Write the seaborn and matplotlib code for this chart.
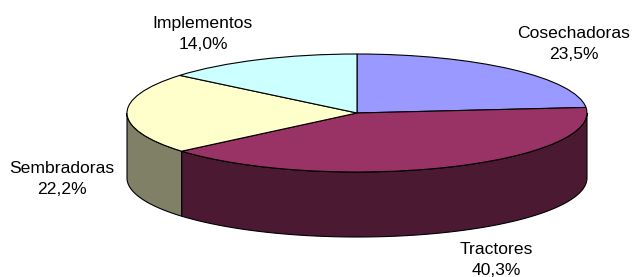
import numpy as np
import matplotlib
matplotlib.use('Agg')
import matplotlib.pyplot as plt
import seaborn as sns

# Data
categories = ['Cosechadoras', 'Tractores', 'Sembradoras', 'Implementos']
shares = [23.5, 40.3, 22.2, 14.0]
top_colors = ['#9999FF', '#993366', '#FFFFCC', '#CCFFFF']
side_colors = ['#4D4D80', '#4C1933', '#808066', '#668080']

sns.set_style('white')
plt.rcParams['font.family'] = ['Liberation Sans', 'DejaVu Sans']

W, H = 633, 277
cx, cy = 357, 113      # pie centre in pixels
a, b = 230, 59         # ellipse half-axes in pixels
depth = 65 / b         # thickness in y units

fig = plt.figure(figsize=(W / 100, H / 100), dpi=100)
ax = fig.add_axes([0, 0, 1, 1])


def px(x, y):
    # pixel position -> data position
    return (x - cx) / a, (cy - y) / b


# --- side walls (front half only) ---
start = 90.0
bounds = []
for v in shares:
    hi = start
    lo = start - v / 100 * 360
    bounds.append((lo, hi))
    start = lo

for (lo, hi), col in zip(bounds, side_colors):
    for shift in (-360, 0, 360):
        s0 = max(lo + shift, -180)
        s1 = min(hi + shift, 0)
        if s1 <= s0:
            continue
        t = np.radians(np.linspace(s0, s1, 100))
        xs = np.concatenate([np.cos(t), np.cos(t[::-1])])
        ys = np.concatenate([np.sin(t), np.sin(t[::-1]) - depth])
        ax.fill(xs, ys, facecolor=col, edgecolor='black', linewidth=0.8, zorder=1)

# --- top face ---
wedges, _ = ax.pie(
    shares,
    colors=top_colors,
    startangle=90,
    counterclock=False,
    radius=1,
    wedgeprops=dict(edgecolor='black', linewidth=0.8),
)
for w in wedges:
    w.set_zorder(2)

ax.set_aspect('auto')
ax.set_xlim(px(0, 0)[0], px(W, 0)[0])
ax.set_ylim(px(0, H)[1], px(0, 0)[1])
ax.axis('off')

# --- labels ---
label_pos = {
    'Cosechadoras': (574, 44),
    'Tractores': (496, 260),
    'Sembradoras': (62, 179),
    'Implementos': (203, 34),
}
for cat, v in zip(categories, shares):
    x, y = px(*label_pos[cat])
    txt = f"{cat}\n{v:.1f}%".replace('.', ',')
    ax.text(x, y, txt, ha='center', va='center', fontsize=12.6,
            linespacing=1.5, color='black', zorder=3)

fig.savefig('out.png', dpi=100)
